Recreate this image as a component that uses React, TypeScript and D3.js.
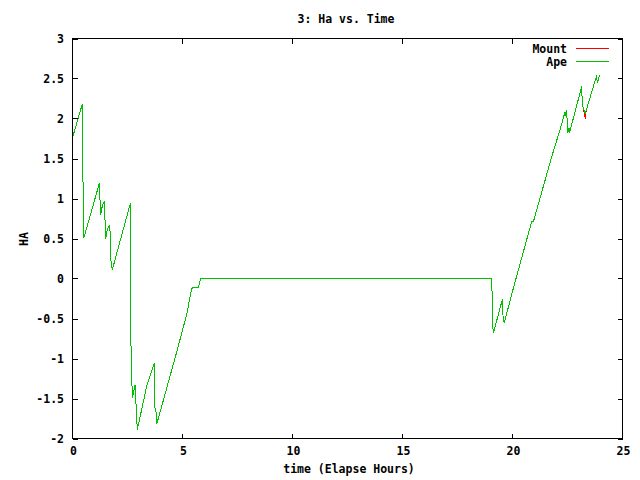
import React from "react";
import * as d3 from "d3";

const titleText = "3: Ha vs. Time";
const xLabelText = "time (Elapse Hours)";
const yLabelText = "HA";
const seriesNames = ["Mount", "Ape"];
const seriesColors = ["#ff0000", "#00c000"];
const xTicks = [0, 5, 10, 15, 20, 25];
const yTicks = [-2, -1.5, -1, -0.5, 0, 0.5, 1, 1.5, 2, 2.5, 3];

const apeTime = [
  0, 0.445, 0.455, 0.49, 0.52, 1.22, 1.28, 1.35, 1.445, 1.51, 1.58, 1.7, 1.73, 1.81,
  2.63, 2.645, 2.66, 2.72, 2.84, 2.87, 2.92, 2.945, 3.37, 3.72, 3.75, 3.8, 3.83,
  4.74, 5.19, 5.42, 5.72, 5.83, 19.05, 19.07, 19.08, 19.13, 19.54, 19.58, 19.63,
  20.04, 20.87, 20.95, 21.78, 22.16, 22.39, 22.42, 22.46, 22.51, 22.57, 22.59,
  23.145, 23.17, 23.22, 23.31, 23.8, 23.83, 23.85, 23.96,
];
const apeHA = [
  1.76, 2.18, 1.76, 0.93, 0.51, 1.19, 0.79, 0.9, 0.97, 0.49, 0.61, 0.67, 0.26, 0.11,
  0.94, 0.33, -0.89, -1.49, -1.33, -1.48, -1.74, -1.89, -1.35, -1.06, -1.62, -1.67, -1.82,
  -0.915, -0.45, -0.12, -0.11, 0.0, 0.0, -0.165, -0.52, -0.685, -0.26, -0.54, -0.55,
  -0.12, 0.71, 0.71, 1.52, 1.86, 2.085, 2.03, 2.105, 1.815, 1.88, 1.82,
  2.4, 2.19, 2.13, 2.065, 2.515, 2.53, 2.44, 2.545,
];

const mountTime = [
  0, 0.445, 0.455, 0.49, 0.52, 1.22, 1.28, 1.35, 1.445, 1.51, 1.58, 1.7, 1.73, 1.81,
  2.63, 2.645, 2.66, 2.72, 2.84, 2.87, 2.92, 2.945, 3.37, 3.72, 3.75, 3.8, 3.83,
  4.74, 5.19, 5.42, 5.72, 5.83, 19.05, 19.07, 19.08, 19.13, 19.54, 19.58, 19.63,
  20.04, 20.87, 20.95, 21.78, 22.16, 22.39, 22.42, 22.46, 22.51, 22.57, 22.59,
  23.145, 23.17, 23.22, 23.27, 23.31, 23.35, 23.8, 23.83, 23.85, 23.96,
];
const mountHA = [
  1.76, 2.18, 1.76, 0.93, 0.51, 1.19, 0.79, 0.9, 0.97, 0.49, 0.61, 0.67, 0.26, 0.11,
  0.94, 0.33, -0.89, -1.49, -1.33, -1.48, -1.74, -1.89, -1.35, -1.06, -1.62, -1.67, -1.82,
  -0.915, -0.45, -0.12, -0.11, 0.0, 0.0, -0.165, -0.52, -0.685, -0.26, -0.54, -0.55,
  -0.12, 0.71, 0.71, 1.52, 1.86, 2.085, 2.03, 2.105, 1.815, 1.88, 1.82,
  2.4, 2.19, 2.13, 2.05, 2.0, 2.1, 2.515, 2.53, 2.44, 2.545,
];

const W = 640;
const H = 480;
const M = { left: 72.5, right: 622.5, top: 38.5, bottom: 438.5 };
const FONT = "'DejaVu Sans Mono', monospace";

export default function App() {
  const x = d3.scaleLinear().domain([0, 25]).range([M.left, M.right]);
  const y = d3.scaleLinear().domain([-2, 3]).range([M.bottom, M.top]);
  const line = d3
    .line<[number, number]>()
    .x((d) => x(d[0]))
    .y((d) => y(d[1]));
  const mountPts = mountTime.map((t, i) => [t, mountHA[i]] as [number, number]);
  const apePts = apeTime.map((t, i) => [t, apeHA[i]] as [number, number]);
  const tickLen = 5;
  const fmt = (v: number) => String(v);

  return (
    <svg
      width={W}
      height={H}
      style={{ position: "absolute", left: 0, top: 0, display: "block", background: "#fff" }}
      fontFamily={FONT}
      fontWeight="bold"
      fontSize={11.5}
    >
      <rect x={0} y={0} width={W} height={H} fill="#fff" />
      <text x={346} y={23} textAnchor="middle" fill="#000">
        {titleText}
      </text>
      {yTicks.map((v) => (
        <g key={"y" + v} shapeRendering="crispEdges">
          <line x1={M.left} x2={M.left + tickLen} y1={Math.round(y(v)) + 0.5} y2={Math.round(y(v)) + 0.5} stroke="#000" />
          <line x1={M.right} x2={M.right - tickLen} y1={Math.round(y(v)) + 0.5} y2={Math.round(y(v)) + 0.5} stroke="#000" />
          <text x={64} y={y(v) + 4} textAnchor="end" fill="#000">
            {fmt(v)}
          </text>
        </g>
      ))}
      {xTicks.map((v) => (
        <g key={"x" + v} shapeRendering="crispEdges">
          <line x1={x(v)} x2={x(v)} y1={M.bottom} y2={M.bottom - tickLen} stroke="#000" />
          <line x1={x(v)} x2={x(v)} y1={M.top} y2={M.top + tickLen} stroke="#000" />
          <text x={x(v) + 1} y={455} textAnchor="middle" fill="#000">
            {fmt(v)}
          </text>
        </g>
      ))}
      <text x={349} y={473} textAnchor="middle" fill="#000">
        {xLabelText}
      </text>
      <text transform="translate(28,239) rotate(-90)" textAnchor="middle" fill="#000">
        {yLabelText}
      </text>
      <path d={line(mountPts) || ""} fill="none" stroke={seriesColors[0]} strokeWidth={1} shapeRendering="crispEdges" />
      <path d={line(apePts) || ""} fill="none" stroke={seriesColors[1]} strokeWidth={1} shapeRendering="crispEdges" />
      <rect
        x={M.left}
        y={M.top}
        width={M.right - M.left}
        height={M.bottom - M.top}
        fill="none"
        stroke="#000"
        shapeRendering="crispEdges"
      />
      {seriesNames.map((n, i) => (
        <g key={n}>
          <text x={567} y={52.5 + i * 13} textAnchor="end" fill="#000">
            {n}
          </text>
          <line
            x1={576}
            x2={609}
            y1={48.5 + i * 13}
            y2={48.5 + i * 13}
            stroke={seriesColors[i]}
            shapeRendering="crispEdges"
          />
        </g>
      ))}
    </svg>
  );
}
